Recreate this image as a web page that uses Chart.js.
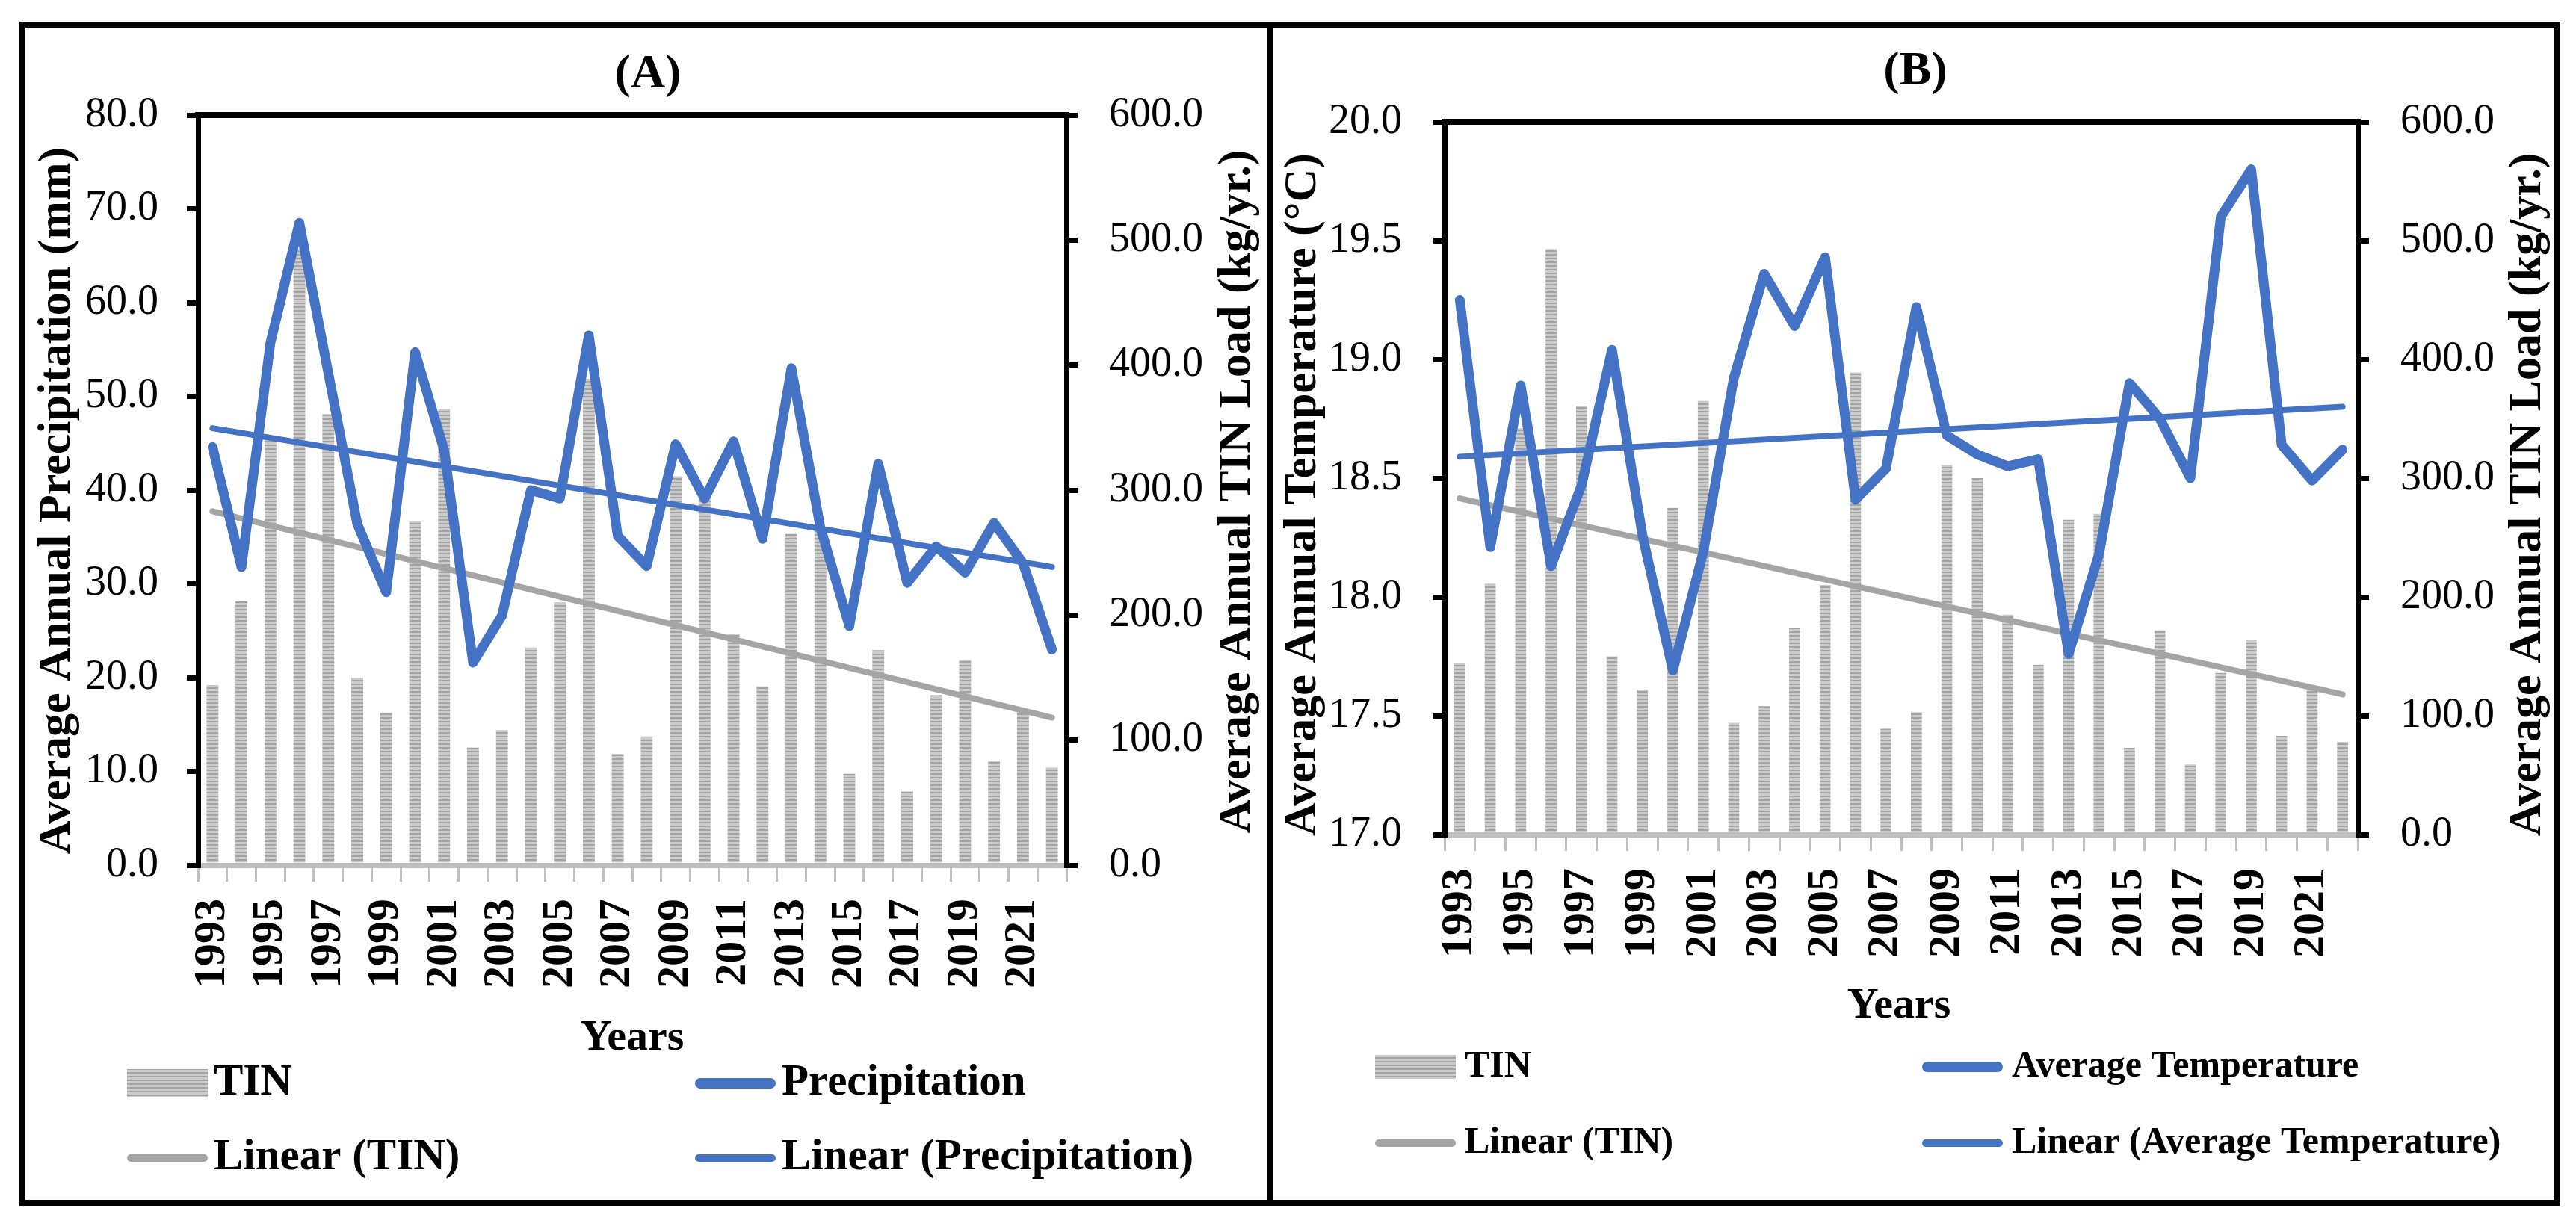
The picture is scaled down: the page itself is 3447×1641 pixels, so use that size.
<!DOCTYPE html>
<html>
<head>
<meta charset="utf-8">
<title>TIN load with precipitation and temperature</title>
<script src="https://cdn.jsdelivr.net/npm/chart.js@4"></script>
<style>
body {
  margin: 0;
  background: #ffffff;
  width: 3447px;
  height: 1641px;
  position: relative;
  overflow: hidden;
}
canvas { position: absolute; top: 0; }
#chartA { left: 0; }
#chartB { left: 1700px; }
.frame {
  position: absolute;
  left: 26px; top: 29px;
  width: 3400px; height: 1585px;
  border: 8px solid #000;
  box-sizing: border-box;
}
.divider {
  position: absolute;
  left: 1696px; top: 29px;
  width: 8px; height: 1585px;
  background: #000;
}
</style>
</head>
<body>
<canvas id="chartA" width="1700" height="1641"></canvas>
<canvas id="chartB" width="1747" height="1641"></canvas>
<div class="frame"></div>
<div class="divider"></div>

<script>
// ---- data ----
const years = ['1993', '1994', '1995', '1996', '1997', '1998', '1999', '2000', '2001', '2002',
               '2003', '2004', '2005', '2006', '2007', '2008', '2009', '2010', '2011', '2012',
               '2013', '2014', '2015', '2016', '2017', '2018', '2019', '2020', '2021', '2022'];

// kg/yr, right axis (same bars in both panels)
const tinLoad = [144, 211, 342, 493, 361, 150, 122, 275, 365, 94,
                 108, 174, 210, 389, 89, 103, 311, 300, 185, 143,
                 265, 270, 73, 172, 59, 136, 164, 83, 122, 78];

// mm, left axis of panel A
const precipitation = [44.6, 31.8, 55.7, 68.5, 52.5, 36.4, 29.1, 54.7, 44.3, 21.6,
                       26.6, 40.0, 39.1, 56.5, 35.1, 31.9, 44.9, 39.1, 45.2, 34.8,
                       53.0, 36.0, 25.5, 42.8, 30.1, 34.0, 31.2, 36.5, 32.2, 23.0];

// deg C, left axis of panel B
const avgTemperature = [19.25, 18.21, 18.89, 18.13, 18.47, 19.04, 18.26, 17.69, 18.19, 18.92,
                        19.36, 19.14, 19.43, 18.41, 18.54, 19.22, 18.68, 18.60, 18.55, 18.58,
                        17.76, 18.18, 18.90, 18.75, 18.50, 19.60, 19.80, 18.64, 18.49, 18.62];

// linear trend lines, end points as drawn
const trendYears = ['1993', '2022'];
const tinTrend = [283, 118];
const precipTrend = [46.6, 31.8];
const tempTrend = [18.59, 18.80];

// axis ranges: [min, max, step]
const precipAxis = [0, 80, 10];
const tempAxis = [17, 20, 0.5];
const tinAxis = [0, 600, 100];

const BLUE = '#4472C4';
const GREY = '#A5A5A5';
const SERIF = "'Liberation Serif', 'Times New Roman', Times, serif";

Chart.defaults.font.family = SERIF;
Chart.defaults.color = '#000';

// striped fill for the TIN bars
function stripePattern() {
  const c = document.createElement('canvas');
  c.width = 4; c.height = 5;
  const g = c.getContext('2d');
  g.fillStyle = '#cbcbcb';
  g.fillRect(0, 0, 4, 5);
  g.fillStyle = '#a3a3a3';
  g.fillRect(0, 0, 4, 2);
  return g.createPattern(c, 'repeat');
}
const stripes = stripePattern();

// titles, top frame line and the 2x2 legend
const panelDeco = {
  id: 'panelDeco',
  afterDraw(chart, args, o) {
    const ctx = chart.ctx;
    const a = chart.chartArea;
    ctx.save();

    ctx.strokeStyle = '#000';
    ctx.lineWidth = 8;
    ctx.beginPath();
    ctx.moveTo(a.left - 4, a.top);
    ctx.lineTo(a.right + 4, a.top);
    ctx.stroke();

    ctx.fillStyle = '#000';
    ctx.textBaseline = 'middle';
    ctx.textAlign = 'center';

    ctx.font = 'bold 64px ' + SERIF;
    ctx.fillText(o.title, o.titleX, o.titleY);

    // both axis titles read bottom to top
    ctx.font = 'bold 62px ' + SERIF;
    o.axisTitles.forEach(t => {
      ctx.save();
      ctx.translate(t.x, t.y);
      ctx.rotate(-Math.PI / 2);
      ctx.fillText(t.text, 0, 0);
      ctx.restore();
    });

    ctx.font = 'bold 58px ' + SERIF;
    ctx.fillText('Years', o.yearsX, o.yearsY);

    ctx.font = 'bold ' + o.legendSize + 'px ' + SERIF;
    ctx.textAlign = 'left';
    o.legend.forEach(item => {
      const ds = chart.data.datasets[item.ds];
      if (ds.type === 'bar') {
        ctx.fillStyle = ds.backgroundColor;
        ctx.fillRect(item.x, item.y - o.swatchH / 2, o.swatchW, o.swatchH);
      } else {
        ctx.strokeStyle = ds.borderColor;
        ctx.lineWidth = item.lw;
        ctx.lineCap = 'round';
        ctx.beginPath();
        ctx.moveTo(item.x + item.lw / 2, item.y);
        ctx.lineTo(item.x + o.swatchW - item.lw / 2, item.y);
        ctx.stroke();
      }
      ctx.fillStyle = '#000';
      ctx.fillText(ds.label, item.x + o.swatchW + o.gap, item.y);
    });

    ctx.restore();
  }
};

const tickFont = { family: SERIF, size: 56, weight: 'normal' };

function panelChart(id, p) {
  return new Chart(document.getElementById(id), {
    type: 'bar',
    plugins: [panelDeco],
    data: {
      labels: years,
      datasets: [
        {
          type: 'line',
          label: p.lineLabel,
          data: p.lineData,
          yAxisID: 'y',
          borderColor: BLUE,
          borderWidth: 13,
          borderJoinStyle: 'round',
          borderCapStyle: 'round',
          pointRadius: 0,
          tension: 0,
          order: 0
        },
        {
          type: 'line',
          label: 'Linear (' + p.lineLabel + ')',
          data: trendYears.map((x, i) => ({ x: x, y: p.lineTrend[i] })),
          yAxisID: 'y',
          borderColor: BLUE,
          borderWidth: 8,
          borderCapStyle: 'round',
          pointRadius: 0,
          order: 1
        },
        {
          type: 'line',
          label: 'Linear (TIN)',
          data: trendYears.map((x, i) => ({ x: x, y: tinTrend[i] })),
          yAxisID: 'y1',
          borderColor: GREY,
          borderWidth: 8,
          borderCapStyle: 'round',
          pointRadius: 0,
          order: 2
        },
        {
          type: 'bar',
          label: 'TIN',
          data: tinLoad,
          yAxisID: 'y1',
          backgroundColor: stripes,
          barPercentage: p.barPct,
          categoryPercentage: 1,
          order: 3
        }
      ]
    },
    options: {
      responsive: false,
      animation: false,
      devicePixelRatio: 1,
      layout: { padding: { top: p.top, bottom: p.bottom, left: 0, right: 0 } },
      plugins: {
        legend: { display: false },
        tooltip: { enabled: false },
        panelDeco: p.deco
      },
      scales: {
        x: {
          offset: true,
          grid: { offset: true, drawOnChartArea: false, color: '#bfbfbf', lineWidth: 3, tickLength: 22 },
          border: { color: '#bfbfbf', width: 7 },
          ticks: {
            autoSkip: false,
            minRotation: 90,
            maxRotation: 90,
            padding: 23,
            font: { family: SERIF, size: 60, weight: 'bold' },
            callback: function (v, i) { return i % 2 === 0 ? this.getLabelForValue(v) : ''; }
          },
          afterFit: s => { s.height = 200; }
        },
        y: {
          position: 'left',
          min: p.axis[0],
          max: p.axis[1],
          grid: { drawOnChartArea: false, color: '#000', lineWidth: 7, tickLength: 15 },
          border: { color: '#000', width: 7 },
          ticks: {
            stepSize: p.axis[2],
            padding: p.leftPad,
            font: tickFont,
            callback: v => v.toFixed(1)
          },
          afterFit: s => { s.width = p.leftW; }
        },
        y1: {
          position: 'right',
          min: tinAxis[0],
          max: tinAxis[1],
          grid: { drawOnChartArea: false, color: '#000', lineWidth: 7, tickLength: 15 },
          border: { color: '#000', width: 7 },
          ticks: {
            stepSize: tinAxis[2],
            padding: 42,
            font: tickFont,
            callback: v => v.toFixed(1)
          },
          afterFit: s => { s.width = p.rightW; }
        }
      }
    }
  });
}

// panel A: precipitation
panelChart('chartA', {
  lineLabel: 'Precipitation',
  lineData: precipitation,
  lineTrend: precipTrend,
  axis: precipAxis,
  barPct: 0.41,
  top: 154, bottom: 283, leftW: 265, rightW: 273, leftPad: 38,
  deco: {
    title: '(A)', titleX: 867, titleY: 100,
    axisTitles: [
      { text: 'Average Annual Precipitation (mm)', x: 77, y: 670 },
      { text: 'Average Annual TIN Load (kg/yr.)', x: 1656, y: 658 }
    ],
    yearsX: 846, yearsY: 1390,
    legendSize: 59, swatchW: 108, swatchH: 38, gap: 8,
    legend: [
      { ds: 3, x: 170, y: 1450 },
      { ds: 0, x: 930, y: 1450, lw: 14 },
      { ds: 2, x: 170, y: 1550, lw: 10 },
      { ds: 1, x: 930, y: 1550, lw: 10 }
    ]
  }
});

// panel B: temperature
panelChart('chartB', {
  lineLabel: 'Average Temperature',
  lineData: avgTemperature,
  lineTrend: tempTrend,
  axis: tempAxis,
  barPct: 0.36,
  top: 163, bottom: 324, leftW: 233, rightW: 292, leftPad: 42,
  deco: {
    title: '(B)', titleX: 863, titleY: 96,
    axisTitles: [
      { text: 'Average Annual Temperature (°C)', x: 44, y: 662 },
      { text: 'Average Annual TIN Load (kg/yr.)', x: 1683, y: 662 }
    ],
    yearsX: 841, yearsY: 1347,
    legendSize: 50, swatchW: 108, swatchH: 32, gap: 12,
    legend: [
      { ds: 3, x: 140, y: 1428 },
      { ds: 0, x: 872, y: 1428, lw: 14 },
      { ds: 2, x: 140, y: 1530, lw: 10 },
      { ds: 1, x: 872, y: 1530, lw: 10 }
    ]
  }
});
</script>
</body>
</html>
